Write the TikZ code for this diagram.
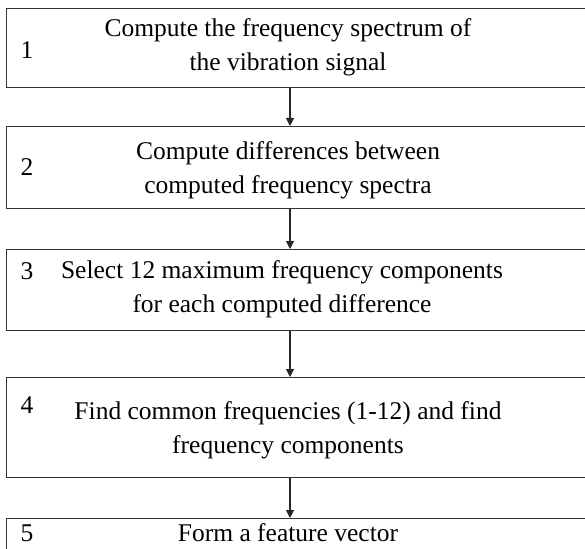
\documentclass[tikz,border=0pt]{standalone}
\usepackage{fontspec}
\setmainfont{Liberation Serif}
\usetikzlibrary{arrows.meta}
\begin{document}
\begin{tikzpicture}[x=1pt,y=-1pt,
  stepbox/.style={draw=black!80, line width=1.2pt, anchor=north west,
    minimum width=620pt, inner sep=0pt},
  steptext/.style={align=center, inner sep=0pt,
    font=\fontsize{25.5}{34}\selectfont},
  stepnum/.style={inner sep=0pt, font=\fontsize{25.5}{34}\selectfont},
  flow/.style={draw=black!85, line width=1.1pt,
    -{Triangle[width=8pt,length=8pt]}}]
\useasboundingbox (0,0) rectangle (585,548);
\clip (0,0) rectangle (585,548);
\coordinate (ax) at (290,0);

% step boxes (they run off the right-hand side)
\node[stepbox, minimum height=79pt]  (b1) at (6,8)   {};
\node[stepbox, minimum height=82pt]  (b2) at (6,126) {};
\node[stepbox, minimum height=81pt]  (b3) at (6,249) {};
\node[stepbox, minimum height=100pt] (b4) at (6,377) {};
\node[stepbox, minimum height=60pt]  (b5) at (6,518) {};

% step numbers
\node[stepnum] (n1) at (27,50)  {1};
\node[stepnum] (n2) at (27,167) {2};
\node[stepnum] (n3) at (27,271) {3};
\node[stepnum] (n4) at (27,405) {4};
\node[stepnum] (n5) at (27,533) {5};

% step descriptions
\node[steptext] (t1) at (288,47)  {Compute the frequency spectrum of\\the vibration signal};
\node[steptext] (t2) at (288,170) {Compute differences between\\computed frequency spectra};
\node[steptext] (t3) at (282,289) {Select 12 maximum frequency components\\for each computed difference};
\node[steptext] (t4) at (288,430) {Find common frequencies (1-12) and find\\frequency components};
\node[steptext] (t5) at (288,533) {Form a feature vector};

% connectors
\draw[flow] (b1.south -| ax) -- (b2.north -| ax);
\draw[flow] (b2.south -| ax) -- (b3.north -| ax);
\draw[flow] (b3.south -| ax) -- (b4.north -| ax);
\draw[flow] (b4.south -| ax) -- (b5.north -| ax);
\end{tikzpicture}
\end{document}
